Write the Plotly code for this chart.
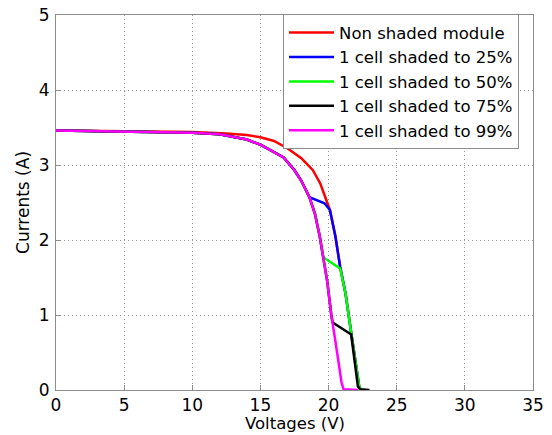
import plotly.graph_objects as go

# ---- data (Voltage V, Current A) ----
v_red = [0, 5, 10, 12.5, 14, 15, 16, 17, 18, 18.85, 19.4, 19.8, 20.1, 20.5, 20.85, 21.25, 21.66, 21.9, 22.1, 22.25, 22.4]
i_red = [3.46, 3.45, 3.44, 3.42, 3.40, 3.37, 3.32, 3.22, 3.09, 2.93, 2.75, 2.55, 2.40, 2.05, 1.64, 1.28, 0.76, 0.45, 0.18, 0.04, 0.0]

v_25 = [0, 5, 10, 12, 13, 14, 15, 16, 16.7, 17.5, 18.0, 18.6, 19.7, 20.1, 20.5, 20.85, 21.25, 21.66, 21.9, 22.1, 22.25, 22.4]
i_25 = [3.46, 3.45, 3.43, 3.41, 3.38, 3.34, 3.27, 3.17, 3.10, 2.93, 2.79, 2.57, 2.49, 2.40, 2.05, 1.64, 1.28, 0.76, 0.45, 0.18, 0.04, 0.0]

v_50 = [0, 5, 10, 12, 13, 14, 15, 16, 16.7, 17.5, 18.0, 18.6, 19.0, 19.35, 19.6, 20.85, 21.25, 21.66, 21.9, 22.1, 22.25, 22.4]
i_50 = [3.46, 3.45, 3.43, 3.41, 3.38, 3.34, 3.27, 3.17, 3.10, 2.93, 2.79, 2.57, 2.35, 2.05, 1.77, 1.62, 1.28, 0.76, 0.45, 0.18, 0.04, 0.0]

v_75 = [0, 5, 10, 12, 13, 14, 15, 16, 16.7, 17.5, 18.0, 18.6, 19.0, 19.35, 19.6, 19.9, 20.2, 20.3, 21.66, 21.9, 22.15, 22.3, 23.0]
i_75 = [3.46, 3.45, 3.43, 3.41, 3.38, 3.34, 3.27, 3.17, 3.10, 2.93, 2.79, 2.57, 2.35, 2.05, 1.77, 1.45, 1.0, 0.9, 0.74, 0.40, 0.05, 0.01, 0.0]

v_99 = [0, 5, 10, 12, 13, 14, 15, 16, 16.7, 17.5, 18.0, 18.6, 19.0, 19.35, 19.6, 19.9, 20.2, 20.3, 20.5, 20.75, 20.95, 21.1, 22.15]
i_99 = [3.46, 3.45, 3.43, 3.41, 3.38, 3.34, 3.27, 3.17, 3.10, 2.93, 2.79, 2.57, 2.35, 2.05, 1.77, 1.45, 1.0, 0.9, 0.65, 0.35, 0.1, 0.01, 0.0]

names = ["Non shaded module", "1 cell shaded to 25%", "1 cell shaded to 50%",
         "1 cell shaded to 75%", "1 cell shaded to 99%"]
colors = ["#ff0000", "#0000ff", "#00ff00", "#000000", "#ff00ff"]
series = [(v_red, i_red), (v_25, i_25), (v_50, i_50), (v_75, i_75), (v_99, i_99)]

x_ticks = [0, 5, 10, 15, 20, 25, 30, 35]
y_ticks = [0, 1, 2, 3, 4, 5]
x_title = "Voltages (V)"
y_title = "Currents (A)"

FONT = "DejaVu Sans, sans-serif"

fig = go.Figure()
for (v, i), n, c in zip(series, names, colors):
    fig.add_trace(go.Scatter(x=v, y=i, mode="lines", name=n,
                             line=dict(color=c, width=2.5)))

axis_common = dict(
    showline=True, linecolor="#8c8c8c", linewidth=1, mirror=True,
    showgrid=True, gridcolor="#9a9a9a", griddash="1px,3px", gridwidth=1,
    ticks="inside", ticklen=5, tickcolor="#8c8c8c",
    tickfont=dict(family=FONT, size=17, color="black"),
    zeroline=False, automargin=False,
)

fig.update_xaxes(range=[0, 35], tickvals=x_ticks, ticklabelstandoff=0, **axis_common)
fig.update_yaxes(range=[0, 5], tickvals=y_ticks, ticklabelstandoff=2,
                 title=dict(text=y_title, font=dict(family=FONT, size=17, color="black"), standoff=4),
                 **axis_common)

fig.add_annotation(text=x_title, xref="paper", yref="paper", x=0.5, y=-0.12,
                   xanchor="center", yanchor="bottom", showarrow=False,
                   font=dict(family=FONT, size=16.5, color="black"))

fig.update_layout(
    width=552, height=435,
    margin=dict(l=56, r=19, t=15, b=45),
    plot_bgcolor="white", paper_bgcolor="white",
    showlegend=True,
    legend=dict(x=0.476, y=1.002, xanchor="left", yanchor="top",
                bgcolor="white", bordercolor="#8c8c8c", borderwidth=1,
                font=dict(family=FONT, size=16.5, color="black"),
                itemwidth=45, tracegroupgap=0),
)

fig.write_html("out.html")
